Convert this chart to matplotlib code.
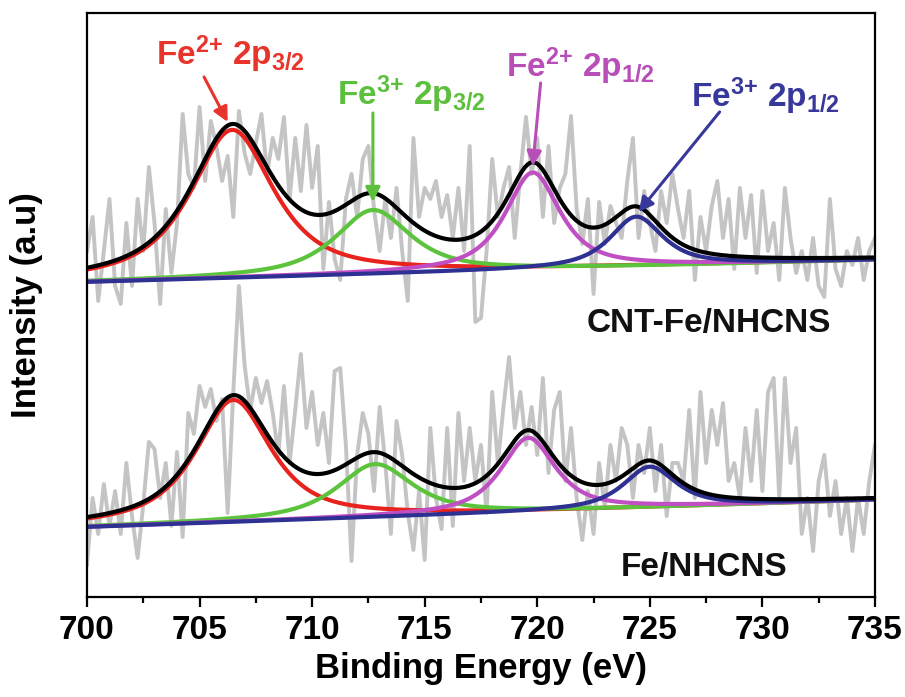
import numpy as np
import matplotlib
matplotlib.use("Agg")
import matplotlib.pyplot as plt

plt.rcParams['font.family'] = ['Liberation Sans', 'DejaVu Sans']
plt.rcParams['font.weight'] = 'bold'
plt.rcParams['mathtext.fontset'] = 'custom'
plt.rcParams['mathtext.rm'] = 'Liberation Sans:bold'
plt.rcParams['mathtext.it'] = 'Liberation Sans:bold'
plt.rcParams['mathtext.bf'] = 'Liberation Sans:bold'
plt.rcParams['mathtext.default'] = 'regular'

# Binding energy grid of the raw spectra (eV)
energy_start, energy_stop, energy_step = 700.0, 735.0, 0.25

# Raw Fe 2p counts, CNT-Fe/NHCNS (upper trace, offset)
raw_cnt = [
    349, 383, 299, 349, 401, 314, 296, 377, 314, 401, 349, 433, 377, 296, 391, 327,
    377, 486, 426, 412, 493, 419, 479, 454, 419, 444, 383, 489, 447, 426, 457, 486,
    426, 462, 441, 483, 401, 462, 409, 475, 412, 454, 331, 398, 341, 320, 401, 426,
    383, 441, 454, 391, 349, 401, 362, 412, 349, 299, 462, 383, 412, 401, 419, 383,
    405, 362, 412, 349, 454, 278, 282, 349, 441, 383, 412, 433, 362, 426, 483, 426,
    462, 383, 454, 377, 412, 426, 484, 391, 356, 401, 306, 398, 356, 394, 377, 362,
    419, 462, 362, 409, 377, 349, 409, 377, 426, 391, 362, 409, 320, 383, 349, 394,
    419, 362, 401, 331, 412, 362, 405, 327, 409, 349, 377, 320, 412, 362, 327, 349,
    320, 362, 314, 303, 401, 331, 314, 349, 335, 362, 320, 349, 362,
]

# Raw Fe 2p counts, Fe/NHCNS (lower trace)
raw_fe = [
    35, 102, 66, 116, 74, 109, 66, 137, 84, 42, 95, 158, 151, 102, 137, 74,
    148, 63, 187, 166, 214, 193, 211, 179, 201, 87, 208, 314, 235, 190, 222, 197,
    219, 187, 145, 214, 137, 190, 246, 172, 208, 155, 187, 137, 229, 232, 155, 39,
    145, 187, 166, 109, 193, 137, 66, 179, 145, 87, 50, 109, 40, 172, 102, 71,
    172, 74, 187, 119, 172, 119, 155, 87, 208, 137, 193, 243, 172, 208, 155, 193,
    145, 222, 127, 190, 208, 119, 172, 102, 60, 109, 66, 137, 92, 155, 119, 172,
    155, 102, 155, 127, 172, 109, 155, 84, 137, 137, 119, 190, 102, 208, 137, 190,
    155, 197, 119, 137, 102, 172, 119, 190, 109, 208, 222, 102, 222, 137, 172, 66,
    102, 49, 119, 145, 84, 119, 66, 102, 49, 102, 66, 119, 155,
]

# Fitted components: centre (eV), height, FWHM (eV)
peak_names = ['Fe2+ 2p3/2', 'Fe3+ 2p3/2', 'Fe2+ 2p1/2', 'Fe3+ 2p1/2']
cnt_centers = [706.45, 712.7, 719.8, 724.4]
cnt_heights = [148, 64, 97, 50]
cnt_fwhm = [4.4, 4.0, 2.9, 2.8]
cnt_background = [318, 340]   # linear background at 700 / 735 eV

fe_centers = [706.5, 712.8, 719.6, 725.0]
fe_heights = [122, 53, 74, 41]
fe_fwhm = [4.0, 4.0, 2.9, 2.8]
fe_background = [73, 100]

lorentz_fraction = 0.8

comp_colors = ['#e8231e', '#5cc43c', '#c04fc4', '#2e3192']
label_colors = ['#e8342a', '#5cbf3e', '#b84fb8', '#37379c']
raw_color = '#c4c4c4'


def pseudo_voigt(x, c, h, w):
    g = np.exp(-4 * np.log(2) * ((x - c) / w) ** 2)
    lo = 1.0 / (1.0 + ((x - c) / (w / 2)) ** 2)
    return h * (lorentz_fraction * lo + (1 - lorentz_fraction) * g)


fig = plt.figure(figsize=(9.05, 6.97), dpi=100)
ax = fig.add_axes([0.0961, 0.1435, 0.8707, 0.8379])

e_raw = np.arange(len(raw_cnt)) * energy_step + energy_start
e_fit = np.linspace(energy_start, energy_stop, 701)

lw = 3.0
for raw, centers, heights, widths, bg in [
    (raw_cnt, cnt_centers, cnt_heights, cnt_fwhm, cnt_background),
    (raw_fe, fe_centers, fe_heights, fe_fwhm, fe_background),
]:
    ax.plot(e_raw, raw, color=raw_color, lw=2.8, zorder=1,
            solid_joinstyle='round')
    base = np.interp(e_fit, [energy_start, energy_stop], bg)
    total = base.copy()
    for c, h, w, col in zip(centers, heights, widths, comp_colors):
        comp = pseudo_voigt(e_fit, c, h, w)
        total += comp
        ax.plot(e_fit, base + comp, color=col, lw=lw, zorder=2)
    ax.plot(e_fit, total, color='black', lw=lw, zorder=3)

# Peak labels with arrows
fs_lab = 24
labels = [
    (r'Fe$^{2{+}}$ 2p$_{3/2}$', (703.07, 535), (705.2, 523), (706.25, 478)),
    (r'Fe$^{3{+}}$ 2p$_{3/2}$', (711.1, 495), (712.7, 487), (712.7, 398)),
    (r'Fe$^{2{+}}$ 2p$_{1/2}$', (718.6, 523), (720.15, 517), (719.8, 434)),
    (r'Fe$^{3{+}}$ 2p$_{1/2}$', (726.85, 493), (728.1, 488), (724.5, 388)),
]
for (txt, pos, tail, tip), col in zip(labels, label_colors):
    ax.text(pos[0], pos[1], txt, color=col, fontsize=fs_lab, fontweight='bold',
            ha='left', va='baseline', zorder=5)
    ax.annotate('', xy=tip, xytext=tail,
                arrowprops=dict(arrowstyle='-|>', color=col, lw=2.2,
                                mutation_scale=22, shrinkA=0, shrinkB=0),
                zorder=5)

ax.text(722.2, 268, 'CNT-Fe/NHCNS', fontsize=24, fontweight='bold',
        ha='left', va='baseline', color='#111111')
ax.text(723.7, 24, 'Fe/NHCNS', fontsize=24, fontweight='bold',
        ha='left', va='baseline', color='#111111')

ax.set_xlim(energy_start, energy_stop)
ax.set_ylim(3, 587)
ax.set_xticks(np.arange(700, 736, 5))
ax.set_xticks(np.arange(702.5, 735, 5), minor=True)
ax.set_yticks([])
ax.tick_params(axis='x', which='major', direction='out', length=7, width=1.6,
               labelsize=24, pad=6)
ax.tick_params(axis='x', which='minor', direction='out', length=4, width=1.6)
for lab in ax.get_xticklabels():
    lab.set_fontweight('bold')
for sp in ax.spines.values():
    sp.set_linewidth(1.6)

ax.set_xlabel('Binding Energy (eV)', fontsize=25, fontweight='bold', labelpad=4)
ax.set_ylabel('Intensity (a.u)', fontsize=25, fontweight='bold', labelpad=32)

fig.savefig('out.png', dpi=100)
